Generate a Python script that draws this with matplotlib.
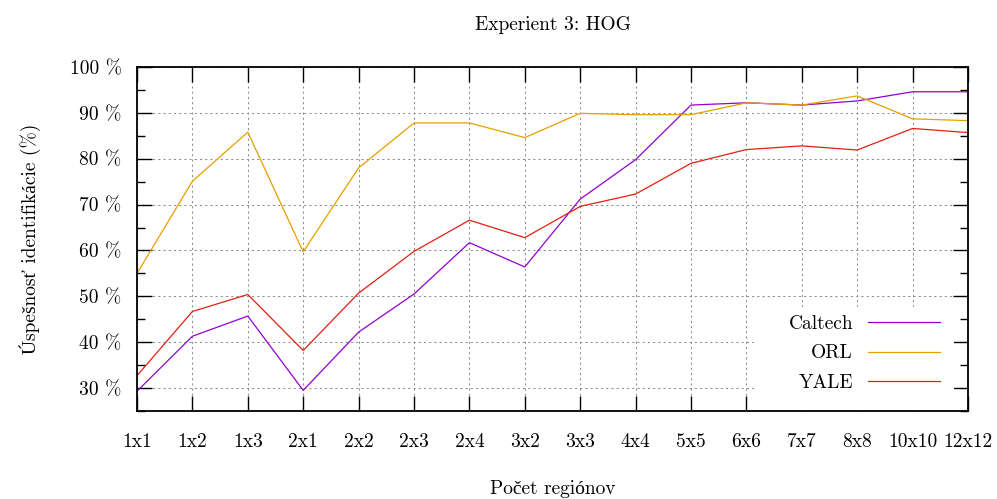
import matplotlib
matplotlib.use('Agg')
import matplotlib.pyplot as plt
from matplotlib.patches import Rectangle
from matplotlib.ticker import MultipleLocator

plt.rcParams['font.family'] = ['cmr10', 'Liberation Serif']
plt.rcParams['mathtext.fontset'] = 'cm'
plt.rcParams['axes.unicode_minus'] = False

# region grids tested in experiment 3 (HOG)
grids = ['1x1', '1x2', '1x3', '2x1', '2x2', '2x3', '2x4', '3x2',
         '3x3', '4x4', '5x5', '6x6', '7x7', '8x8', '10x10', '12x12']

caltech = [29.3, 41.3, 45.7, 29.5, 42.2, 50.5, 61.7, 56.4,
           71.2, 79.8, 91.7, 92.2, 91.7, 92.6, 94.6, 94.6]
orl = [55.0, 75.1, 85.8, 59.7, 78.0, 87.8, 87.8, 84.6,
       89.9, 89.6, 89.6, 92.2, 91.7, 93.7, 88.7, 88.3]
yale = [32.7, 46.7, 50.4, 38.2, 50.7, 59.8, 66.6, 62.8,
        69.6, 72.3, 79.0, 82.0, 82.8, 81.9, 86.6, 85.7]

series = [('Caltech', caltech, '#9400D3'),
          ('ORL', orl, '#E69F00'),
          ('YALE', yale, '#E51E10')]

FS = 14

fig = plt.figure(figsize=(9.97, 4.99), dpi=100)
ax = fig.add_axes([137/997, 1 - 411/499, (968 - 137)/997, (411 - 67)/499])

x = list(range(len(grids)))
for name, vals, col in series:
    ax.plot(x, vals, color=col, lw=0.9, label=name, zorder=2)

ax.set_xlim(0, len(grids) - 1)
ax.set_ylim(25, 100)
ax.set_xticks(x)
ax.set_xticklabels(grids)
ax.yaxis.set_major_locator(MultipleLocator(10))
ax.yaxis.set_minor_locator(MultipleLocator(5))
ax.set_yticks(range(30, 101, 10))
ax.set_yticklabels(['%d %%' % v for v in range(30, 101, 10)])

ax.tick_params(which='both', direction='in', top=True, right=True,
               width=1.0, color='black', labelsize=FS)
ax.tick_params(which='major', length=11)
ax.tick_params(which='minor', length=6)
ax.tick_params(axis='x', pad=16)
ax.tick_params(axis='y', pad=11)

ax.set_axisbelow(True)
ax.grid(True, which='major', color='#8c8c8c', lw=0.75, linestyle=(0, (2, 3)))
for s in ax.spines.values():
    s.set_linewidth(1.3)

# white box behind the key hides the grid there
ax.add_patch(Rectangle((0.743, 0.0), 0.24, 0.302, transform=ax.transAxes,
                       facecolor='white', edgecolor='none', zorder=1))

ax.legend(loc='lower right', bbox_to_anchor=(0.978, 0.027), frameon=False,
          markerfirst=False, handlelength=3.7, handletextpad=0.77,
          labelspacing=0.6, borderpad=0, fontsize=FS)

ax.set_title('Experient 3: HOG', fontsize=FS, pad=27)
ax.set_xlabel('Počet regiónov', fontsize=FS, labelpad=21)
ax.set_ylabel('Úspešnosť identifikácie (%)', fontsize=FS, labelpad=21)

fig.savefig('out.png', dpi=100)
